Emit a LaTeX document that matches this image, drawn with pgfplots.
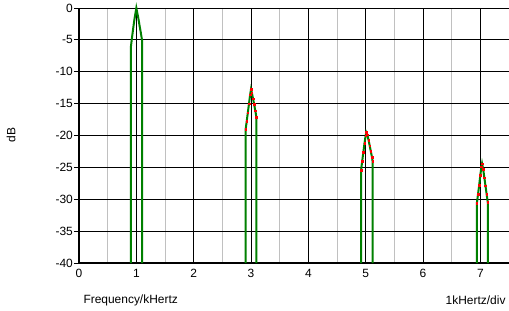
\documentclass[border=0pt]{standalone}
\usepackage{fontspec}
\setmainfont{Liberation Sans}
\usepackage{pgfplots}
\pgfplotsset{compat=1.18}
\definecolor{specgreen}{RGB}{0,128,0}
\definecolor{specred}{RGB}{255,0,0}
\definecolor{gridgray}{RGB}{192,192,192}
\begin{document}
\begin{tikzpicture}[x=1bp,y=1bp]
\useasboundingbox (-79bp,-48bp) rectangle (430bp,263bp);
\begin{axis}[
  at={(0,0)}, anchor=south west,
  scale only axis, width=430bp, height=255bp,
  xmin=0, xmax=7.5, ymin=-40, ymax=0,
  clip=false,
  axis x line=bottom, axis y line=left,
  axis line style={black, line width=2bp, -},
  xtick={0,1,2,3,4,5,6,7},
  xticklabels={0,1,2,3,4,5,6,7},
  minor xtick={0.5,1.5,2.5,3.5,4.5,5.5,6.5},
  ytick={-40,-35,-30,-25,-20,-15,-10,-5,0},
  yticklabels={-40,-35,-30,-25,-20,-15,-10,-5,0},
  grid=both,
  major grid style={black, line width=0.8bp},
  minor grid style={gridgray, line width=0.8bp},
  ytick style={black, line width=0.8bp},
  xtick style={draw=none},
  minor tick length=0pt,
  major tick length=5bp,
  tick align=outside,
  tick label style={font=\fontsize{12}{14}\selectfont},
  xticklabel style={inner sep=1bp},
  yticklabel style={inner sep=1bp},
]
% red sample markers
\addplot[only marks, mark=square*, mark size=0.8bp, color=specred] coordinates {
(2.907,-19.0)(2.925,-17.8)(2.945,-16.4)(2.965,-15.0)(2.985,-13.6)(3.000,-12.75)(3.015,-13.3)(3.035,-14.2)(3.055,-15.1)(3.075,-16.1)(3.094,-17.1)
};
\addplot[only marks, mark=square*, mark size=0.8bp, color=specred] coordinates {
(4.92,-25.4)(4.94,-24.0)(4.96,-22.6)(4.98,-21.2)(5.00,-20.0)(5.01,-19.5)(5.03,-19.9)(5.05,-20.7)(5.07,-21.6)(5.09,-22.5)(5.11,-23.4)(5.12,-24.0)
};
\addplot[only marks, mark=square*, mark size=0.8bp, color=specred] coordinates {
(6.94,-30.6)(6.96,-29.2)(6.98,-27.8)(7.00,-26.2)(7.02,-24.9)(7.03,-24.4)(7.05,-25.3)(7.07,-26.6)(7.09,-27.9)(7.11,-29.2)(7.13,-30.5)
};
% green spectrum lines
\addplot[specgreen, line width=2bp, no marks, sharp plot] coordinates {
(0.905,-40)(0.905,-6.1)(0.925,-4.6)(0.945,-3.2)(0.965,-1.9)(0.985,-0.8)(1.000,0)(1.015,-0.7)(1.035,-1.6)(1.055,-2.7)(1.075,-3.7)(1.095,-4.8)(1.100,-5.1)(1.100,-40)
};
\addplot[specgreen, line width=2bp, no marks, sharp plot] coordinates {
(2.907,-40)(2.907,-19.0)(2.925,-17.8)(2.945,-16.4)(2.965,-15.0)(2.985,-13.6)(3.000,-12.75)(3.015,-13.3)(3.035,-14.2)(3.055,-15.1)(3.075,-16.1)(3.094,-17.1)(3.094,-40)
};
\addplot[specgreen, line width=2bp, no marks, sharp plot] coordinates {
(4.92,-40)(4.92,-25.4)(4.94,-24.0)(4.96,-22.6)(4.98,-21.2)(5.00,-20.0)(5.01,-19.5)(5.03,-19.9)(5.05,-20.7)(5.07,-21.6)(5.09,-22.5)(5.11,-23.4)(5.12,-24.0)(5.12,-40)
};
\addplot[specgreen, line width=2bp, no marks, sharp plot] coordinates {
(6.94,-40)(6.94,-30.6)(6.96,-29.2)(6.98,-27.8)(7.00,-26.2)(7.02,-24.9)(7.03,-24.4)(7.05,-25.3)(7.07,-26.6)(7.09,-27.9)(7.11,-29.2)(7.13,-30.5)(7.13,-40)
};
\end{axis}
\node[anchor=west, font=\fontsize{12}{14}\selectfont] at (1bp,-37bp) {Frequency/kHertz};
\node[anchor=east, font=\fontsize{12}{14}\selectfont] at (430bp,-37bp) {1kHertz/div};
\node[rotate=90, font=\fontsize{12}{14}\selectfont] at (-68bp,128bp) {dB};
\end{tikzpicture}
\end{document}
